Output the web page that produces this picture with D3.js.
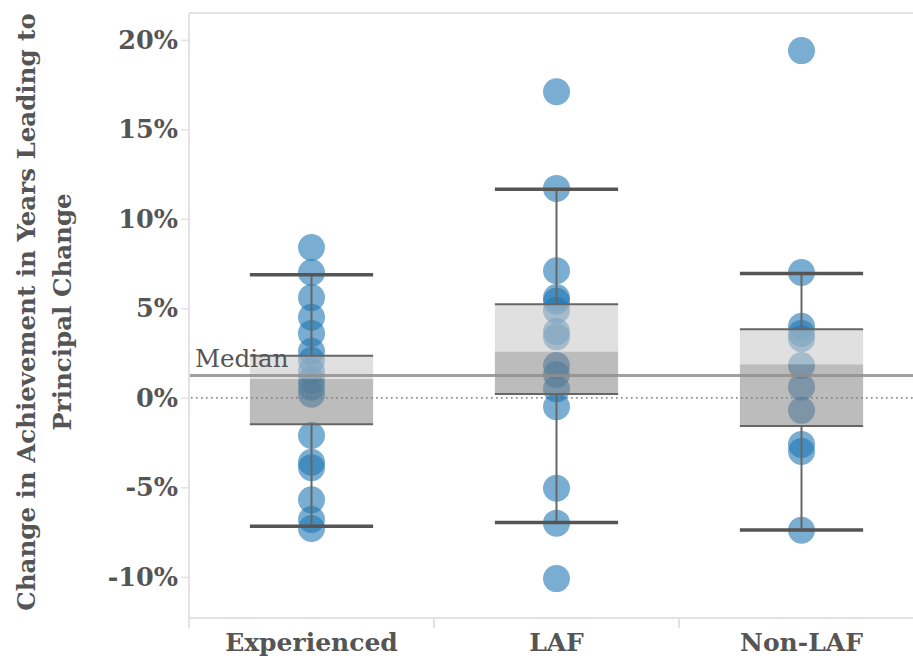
<!DOCTYPE html>
<html>
<head>
<meta charset="utf-8">
<script src="https://cdn.jsdelivr.net/npm/d3@7"></script>
<style>
  html, body { margin: 0; padding: 0; background: #fff; }
  svg { display: block; }
</style>
</head>
<body>
<svg id="chart" width="913" height="658"></svg>
<script>
// ---- data (percent values) ----
const categories = ["Experienced", "LAF", "Non-LAF"];
const experiencedValues = [8.4, 7.0, 5.6, 4.5, 3.6, 2.6, 2.1, 1.5, 1.0, 0.6, 0.2, -2.1, -3.6, -3.9, -5.7, -6.8, -7.3];
const lafValues = [17.1, 11.7, 7.1, 5.6, 5.4, 4.9, 3.7, 3.4, 1.8, 1.3, 0.5, -0.5, -5.05, -7.0, -10.1];
const nonLafValues = [19.4, 7.0, 4.0, 3.6, 3.3, 1.8, 0.6, -0.7, -2.6, -3.0, -7.4];
const seriesValues = [experiencedValues, lafValues, nonLafValues];

const boxQ1 = [-1.48, 0.21, -1.58];
const boxMedian = [1.05, 2.58, 1.87];
const boxQ3 = [2.35, 5.23, 3.83];
const whiskerLow = [-7.17, -6.97, -7.39];
const whiskerHigh = [6.87, 11.65, 6.95];
const overallMedian = 1.25;

const yTicks = [-10, -5, 0, 5, 10, 15, 20];
const yTickLabels = ["-10%", "-5%", "0%", "5%", "10%", "15%", "20%"];
const yTitleLines = ["Change in Achievement in Years Leading to", "Principal Change"];
const medianLabel = "Median";

// ---- layout ----
const svg = d3.select("#chart");
const plotLeft = 189, plotRight = 924, plotTop = 13, plotBottom = 618;
const serif = "'DejaVu Serif', serif";
const textColor = "#555";

const y = d3.scaleLinear().domain([-12.3, 21.5]).range([plotBottom, plotTop]);
const x = d3.scaleBand().domain(categories).range([plotLeft, plotRight]).padding(0);
const bw = x.bandwidth();
const boxW = bw * 0.503;

// top border
svg.append("line").attr("x1", plotLeft).attr("x2", 913).attr("y1", plotTop).attr("y2", plotTop)
  .attr("stroke", "#e2e2e2").attr("stroke-width", 2);

// y axis
const yAxis = d3.axisLeft(y).tickValues(yTicks).tickSize(8).tickPadding(3)
  .tickFormat((d, i) => yTickLabels[i]);
const gy = svg.append("g").attr("transform", `translate(${plotLeft},0)`).call(yAxis);
gy.select(".domain").attr("stroke", "#e2e2e2").attr("stroke-width", 2)
  .attr("d", `M0,${plotTop}V${plotBottom}`);
gy.selectAll(".tick line").attr("stroke", "#e2e2e2").attr("stroke-width", 1.5);
gy.selectAll(".tick text").attr("fill", textColor).attr("font-family", serif)
  .attr("font-weight", "bold").attr("font-size", 25.5);

// x axis
const xAxis = d3.axisBottom(x).tickSize(0).tickPadding(15);
const gx = svg.append("g").attr("transform", `translate(0,${plotBottom})`).call(xAxis);
gx.select(".domain").attr("stroke", "#e2e2e2").attr("stroke-width", 2)
  .attr("d", `M${plotLeft},0H913`);
gx.selectAll(".tick text").attr("fill", textColor).attr("font-family", serif)
  .attr("font-weight", "bold").attr("font-size", 25);
// category dividers
svg.append("g").selectAll("line").data(categories).join("line")
  .attr("x1", d => x(d)).attr("x2", d => x(d))
  .attr("y1", plotBottom).attr("y2", plotBottom + 10)
  .attr("stroke", "#e2e2e2").attr("stroke-width", 2);

// zero dotted line
svg.append("line").attr("x1", plotLeft + 2).attr("x2", 913)
  .attr("y1", y(0)).attr("y2", y(0))
  .attr("stroke", "#8a8a8a").attr("stroke-width", 1.6).attr("stroke-dasharray", "1.6,3.4");

// points
const pts = [];
seriesValues.forEach((vals, i) => vals.forEach(v => pts.push({c: categories[i], v})));
svg.append("g").selectAll("circle").data(pts).join("circle")
  .attr("cx", d => x(d.c) + bw / 2).attr("cy", d => y(d.v)).attr("r", 13.5)
  .attr("fill", "#1f77b4").attr("fill-opacity", 0.6);

// boxes
const boxes = categories.map((c, i) => ({c, q1: boxQ1[i], med: boxMedian[i], q3: boxQ3[i], lo: whiskerLow[i], hi: whiskerHigh[i]}));
const gb = svg.append("g");
gb.selectAll("rect.upper").data(boxes).join("rect").attr("class", "upper")
  .attr("x", d => x(d.c) + bw / 2 - boxW / 2).attr("width", boxW)
  .attr("y", d => y(d.q3)).attr("height", d => y(d.med) - y(d.q3))
  .attr("fill", "rgb(200,200,200)").attr("fill-opacity", 0.56);
gb.selectAll("rect.lower").data(boxes).join("rect").attr("class", "lower")
  .attr("x", d => x(d.c) + bw / 2 - boxW / 2).attr("width", boxW)
  .attr("y", d => y(d.med)).attr("height", d => y(d.q1) - y(d.med))
  .attr("fill", "rgb(128,128,128)").attr("fill-opacity", 0.53);

// overall median reference line
svg.append("line").attr("x1", plotLeft + 1).attr("x2", 913)
  .attr("y1", y(overallMedian)).attr("y2", y(overallMedian))
  .attr("stroke", "#8f8f8f").attr("stroke-opacity", 0.85).attr("stroke-width", 3);
svg.append("text").attr("x", plotLeft + 6).attr("y", y(overallMedian) - 8)
  .attr("font-family", serif).attr("font-size", 24.5).attr("fill", textColor).text(medianLabel);

// whiskers
boxes.forEach(d => {
  const cx = x(d.c) + bw / 2;
  const g = gb.append("g");
  g.append("line").attr("x1", cx).attr("x2", cx).attr("y1", y(d.hi)).attr("y2", y(d.q3))
    .attr("stroke", "#666").attr("stroke-width", 2);
  g.append("line").attr("x1", cx).attr("x2", cx).attr("y1", y(d.q1)).attr("y2", y(d.lo))
    .attr("stroke", "#666").attr("stroke-width", 2);
  [d.q3, d.q1].forEach(v => g.append("line")
    .attr("x1", cx - boxW / 2).attr("x2", cx + boxW / 2).attr("y1", y(v)).attr("y2", y(v))
    .attr("stroke", "#666").attr("stroke-width", 2));
  [d.hi, d.lo].forEach(v => g.append("line")
    .attr("x1", cx - boxW / 2).attr("x2", cx + boxW / 2).attr("y1", y(v)).attr("y2", y(v))
    .attr("stroke", "#555").attr("stroke-width", 3.5));
});

// y axis title
const titleCenterY = 312;
yTitleLines.forEach((line, i) => {
  svg.append("text")
    .attr("transform", `translate(${35 + i * 36},${titleCenterY}) rotate(-90)`)
    .attr("text-anchor", "middle").attr("font-family", serif).attr("font-weight", "bold")
    .attr("font-size", 24.5).attr("fill", textColor).text(line);
});
</script>
</body>
</html>
